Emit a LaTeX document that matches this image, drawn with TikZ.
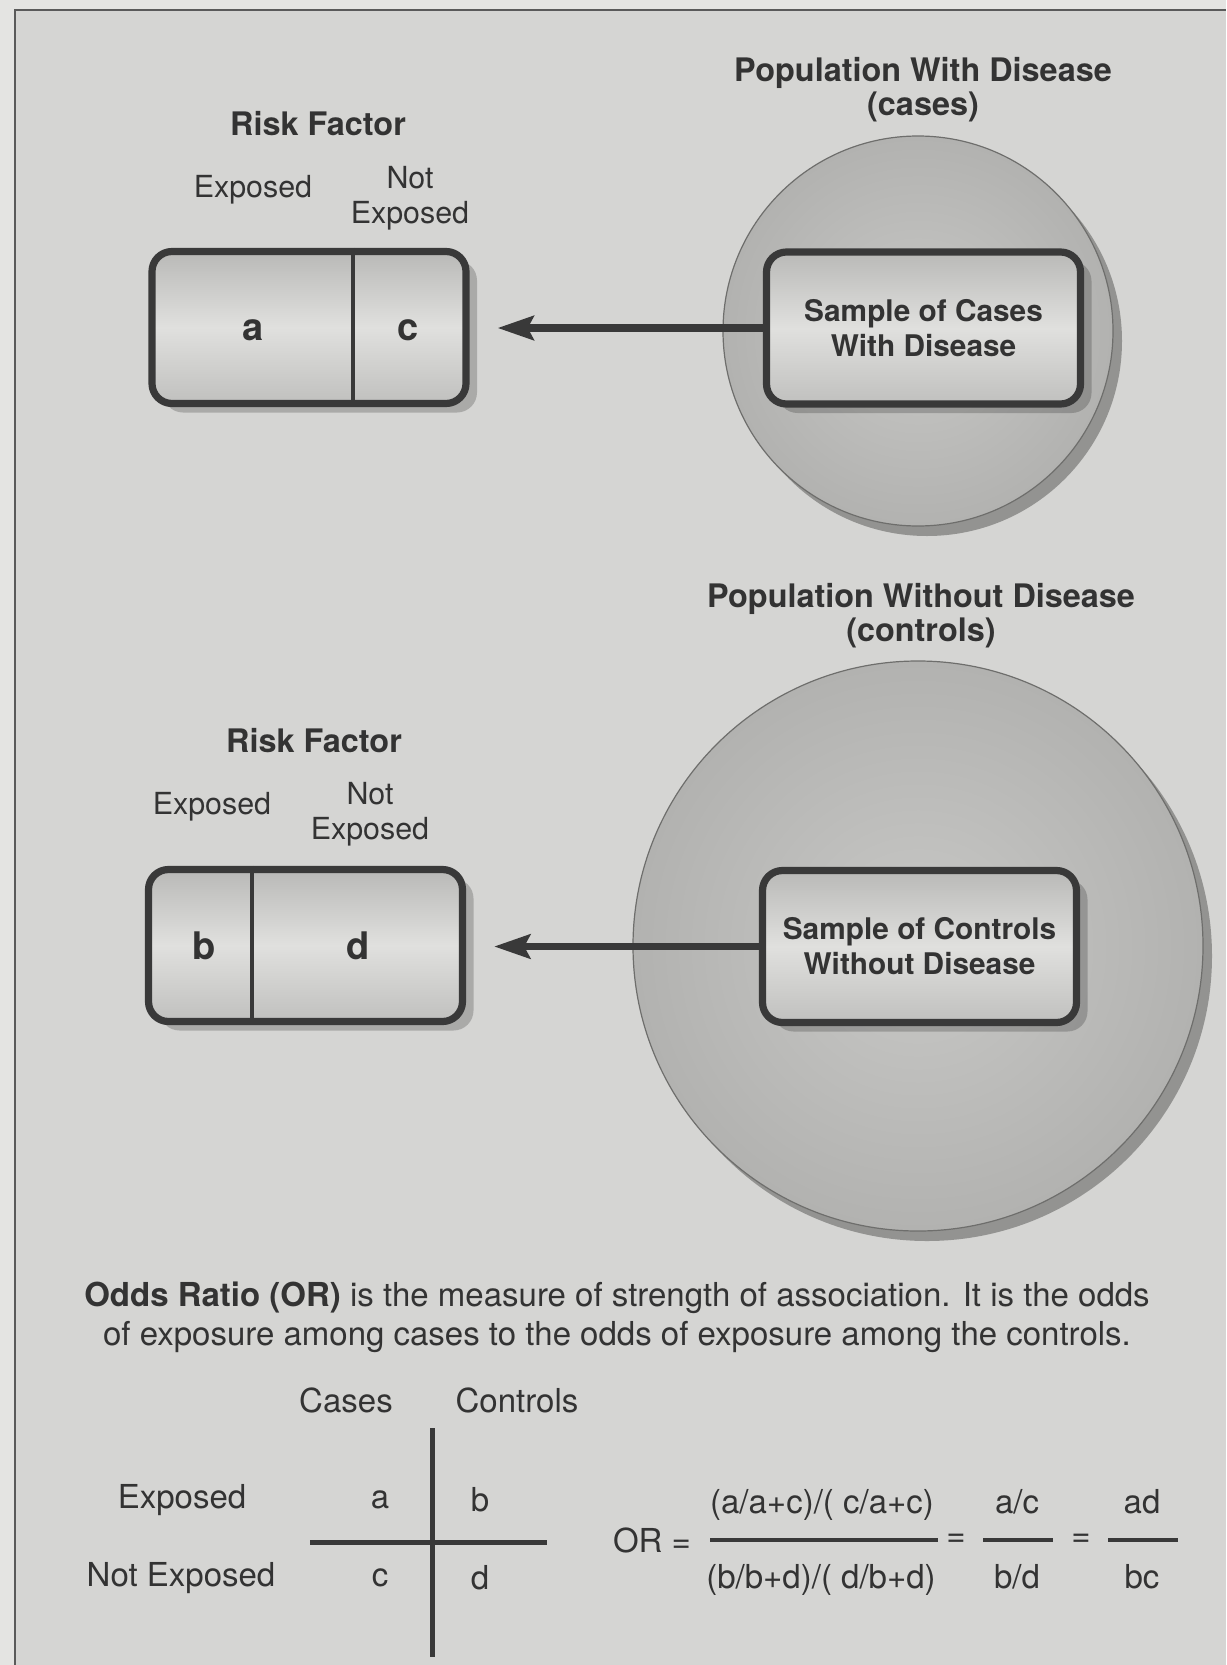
\documentclass[tikz,border=0pt]{standalone}
\usepackage{fontspec}
\setmainfont{TeX Gyre Heros}
\usetikzlibrary{shadows,arrows.meta}
\definecolor{bgin}{HTML}{D5D5D3}
\definecolor{bgout}{HTML}{E4E4E2}
\definecolor{framecol}{HTML}{5A5A5A}
\definecolor{ink}{HTML}{333333}
\definecolor{lineink}{HTML}{393939}
\definecolor{circin}{HTML}{C8C8C6}
\definecolor{circout}{HTML}{B2B2B0}
\definecolor{circline}{HTML}{6E6E6C}
\definecolor{circshadow}{HTML}{939391}
\definecolor{boxtop}{HTML}{B9B9B7}
\definecolor{boxmid}{HTML}{E0E0DE}
\definecolor{boxbot}{HTML}{C0C0BE}
\tikzset{
  headtxt/.style={font=\fontsize{16.2}{17}\selectfont\bfseries, text=ink, align=center, inner sep=0pt},
  labtxt/.style={font=\fontsize{15.2}{17.5}\selectfont, text=ink, align=center, inner sep=0pt},
  celltxt/.style={font=\fontsize{19}{22}\selectfont\bfseries, text=ink, inner sep=0pt},
  bodytxt/.style={font=\fontsize{16.5}{19.5}\selectfont, text=ink, inner sep=0pt},
  tablebox/.style={draw=lineink, line width=3.6pt, rounded corners=10pt,
    minimum width=157pt, minimum height=76pt, inner sep=0pt,
    top color=boxtop, bottom color=boxbot, middle color=boxmid,
    drop shadow={shadow xshift=5.5pt, shadow yshift=-4.5pt, fill=black, opacity=0.2}},
  samplebox/.style={font=\fontsize{14.9}{17.5}\selectfont\bfseries, text=ink, align=center},
  popcircle/.style={circle, draw=circline, line width=0.6pt, inner color=circin, outer color=circout, inner sep=0pt},
  popshadow/.style={circle, fill=circshadow, inner sep=0pt},
  divline/.style={draw=lineink, line width=2.2pt},
  conn/.style={draw=lineink, line width=3.6pt, -{Stealth[length=18pt, width=12pt, inset=3pt]}},
  gridline/.style={draw=lineink, line width=2.5pt},
  barline/.style={draw=lineink, line width=2pt},
}
\begin{document}
\begin{tikzpicture}[x=0.5pt, y=-0.5pt]
\useasboundingbox (0,0) rectangle (1226,1665);
\fill[bgout] (0,0) rectangle (1226,1665);
\fill[bgin] (15,10) rectangle (1226,1665);
\draw[framecol, line width=1pt] (15,1665) -- (15,10) -- (1226,10);

% ---------- upper part: cases ----------
\node[popshadow, minimum size=195pt] (popAsh) at (927,341) {};
\node[popcircle, minimum size=195pt] (popA) at (918,331) {};
\node[headtxt] (popAtitle) at (923,90) {Population With Disease\\(cases)};

\node[headtxt] (rfA) at (318,124) {Risk Factor};
\node[labtxt] (expA) at (253,190) {Exposed};
\node[labtxt] (notA) at (410,198) {Not\\Exposed};

\node[tablebox] (boxA) at (309,327.5) {};
\coordinate (divA) at (353,0);
\draw[divline] (boxA.north -| divA) -- (boxA.south -| divA);
\node[celltxt] (cellA) at (253,330) {a};
\node[celltxt] (cellC) at (408,330) {c};

\node[tablebox, samplebox] (sampleA) at (923.5,328) {Sample of Cases\\With Disease};
\coordinate (tipA) at ([xshift=14pt]boxA.east);
\draw[conn] (sampleA.west) -- (tipA |- sampleA.west);

% ---------- lower part: controls ----------
\node[popshadow, minimum size=285pt] (popBsh) at (927,956) {};
\node[popcircle, minimum size=285pt] (popB) at (918,946) {};
\node[headtxt] (popBtitle) at (921,616) {Population Without Disease\\(controls)};

\node[headtxt] (rfB) at (314,741) {Risk Factor};
\node[labtxt] (expB) at (212,807) {Exposed};
\node[labtxt] (notB) at (370,814) {Not\\Exposed};

\node[tablebox] (boxB) at (305.5,945.5) {};
\coordinate (divB) at (252,0);
\draw[divline] (boxB.north -| divB) -- (boxB.south -| divB);
\node[celltxt] (cellB) at (204,946) {b};
\node[celltxt] (cellD) at (358,946) {d};

\node[tablebox, samplebox] (sampleB) at (919.5,946.5) {Sample of Controls\\Without Disease};
\coordinate (tipB) at ([xshift=14pt]boxB.east);
\draw[conn] (sampleB.west) -- (tipB |- sampleB.west);

% ---------- odds ratio ----------
\node[bodytxt, align=center] (oddsdef) at (617,1317) {\textbf{Odds Ratio (OR)} is the measure of strength of association. It is the odds\\of exposure among cases to the odds of exposure among the controls.};

\node[bodytxt] (hCases) at (346,1400) {Cases};
\node[bodytxt] (hControls) at (517,1400) {Controls};
\node[bodytxt] (rExp) at (182,1500) {Exposed};
\node[bodytxt] (rNot) at (181,1578) {Not Exposed};
\node[bodytxt] (tA) at (380,1500) {a};
\node[bodytxt] (tB) at (480,1500) {b};
\node[bodytxt] (tC) at (380,1578) {c};
\node[bodytxt] (tD) at (480,1578) {d};
\coordinate (vTop) at (432,1428);
\coordinate (vBot) at (432,1657);
\coordinate (hL) at (310,1542);
\coordinate (hR) at (547,1542);
\draw[gridline] (vTop) -- (vBot);
\draw[gridline] (hL) -- (hR);

\node[bodytxt] (orlab) at (652,1540) {OR =};
\node[bodytxt, anchor=base] (num1) at (822,1513) {(a/a+c)/( c/a+c)};
\node[bodytxt, anchor=base] (den1) at (821,1588) {(b/b+d)/( d/b+d)};
\coordinate (b1L) at (710,1540);
\coordinate (b1R) at (938,1540);
\draw[barline] (b1L) -- (b1R);
\node[bodytxt] (eq1) at (956,1540) {=};
\node[bodytxt, anchor=base] (num2) at (1017,1513) {a/c};
\node[bodytxt, anchor=base] (den2) at (1017,1588) {b/d};
\coordinate (b2L) at (983,1540);
\coordinate (b2R) at (1053,1540);
\draw[barline] (b2L) -- (b2R);
\node[bodytxt] (eq2) at (1081,1540) {=};
\node[bodytxt, anchor=base] (num3) at (1142,1513) {ad};
\node[bodytxt, anchor=base] (den3) at (1142,1588) {bc};
\coordinate (b3L) at (1108,1540);
\coordinate (b3R) at (1178,1540);
\draw[barline] (b3L) -- (b3R);
\end{tikzpicture}
\end{document}
